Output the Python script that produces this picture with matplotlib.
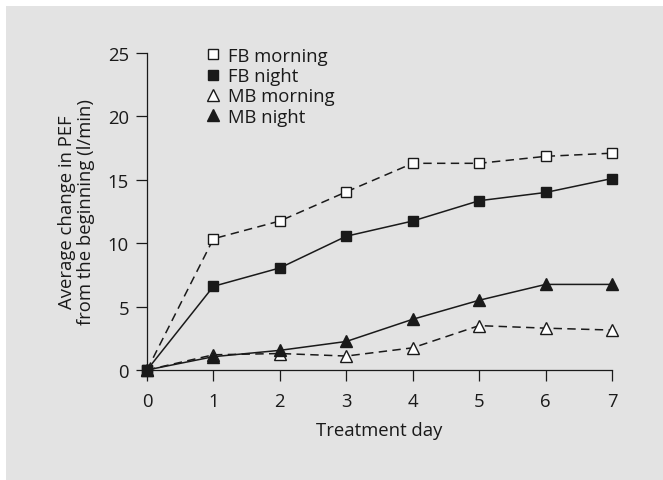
import matplotlib
matplotlib.use("Agg")
import matplotlib.pyplot as plt
from matplotlib.lines import Line2D
from matplotlib.patches import Rectangle

plt.rcParams['font.family'] = ['Open Sans', 'DejaVu Sans']

# data
days = [0, 1, 2, 3, 4, 5, 6, 7]
fb_morning = [0, 10.35, 11.75, 14.05, 16.3, 16.3, 16.85, 17.1]
fb_night = [0, 6.6, 8.05, 10.55, 11.75, 13.35, 14.0, 15.1]
mb_morning = [0, 1.2, 1.3, 1.1, 1.75, 3.5, 3.3, 3.15]
mb_night = [0, 1.05, 1.55, 2.25, 4.0, 5.5, 6.75, 6.75]
labels = ["FB morning", "FB night", "MB morning", "MB night"]

bg = "#e3e3e3"
ink = "#1a1a1a"
fs = 13.3

fig = plt.figure(figsize=(6.63, 4.81), dpi=100, facecolor="white")
# grey panel with a thin white edge on the left and top
fig.patches.append(Rectangle((6 / 663, 0), 1, 1 - 7 / 481, transform=fig.transFigure,
                             facecolor=bg, edgecolor="none", zorder=-10))
ax = fig.add_axes([147 / 663, 110 / 481, 465 / 663, 317 / 481])
ax.set_facecolor(bg)

dash = (0, (5.5, 3.5))
common = dict(color=ink, lw=1.1, clip_on=False, zorder=3)
ax.plot(days, fb_morning, linestyle=dash, marker="s", ms=7, mfc="white", mec=ink, mew=1, **common)
ax.plot(days, fb_night, linestyle="-", marker="s", ms=7, mfc=ink, mec=ink, mew=1, **common)
ax.plot(days, mb_morning, linestyle=dash, marker="^", ms=8.5, mfc="white", mec=ink, mew=1, **common)
ax.plot(days, mb_night, linestyle="-", marker="^", ms=8.5, mfc=ink, mec=ink, mew=1, **common)

ax.set_xlim(0, 7)
ax.set_ylim(0, 25)
ax.set_xticks(days)
ax.set_yticks([0, 5, 10, 15, 20, 25])
for s in ["top", "right"]:
    ax.spines[s].set_visible(False)
for s in ["left", "bottom"]:
    ax.spines[s].set_color(ink)
    ax.spines[s].set_linewidth(0.9)
ax.tick_params(axis="x", direction="out", length=8, width=0.9, color=ink, pad=8, labelsize=fs, labelcolor=ink)
ax.tick_params(axis="y", direction="out", length=8, width=0.9, color=ink, pad=5, labelsize=fs, labelcolor=ink)

ax.set_xlabel("Treatment day", fontsize=fs, color=ink, labelpad=8)
ax.set_ylabel("Average change in PEF\nfrom the beginning (l/min)", fontsize=fs, color=ink,
              labelpad=9, linespacing=1.05)

handles = [
    Line2D([], [], linestyle="none", marker="s", ms=7, mfc="white", mec=ink, mew=1),
    Line2D([], [], linestyle="none", marker="s", ms=7, mfc=ink, mec=ink, mew=1),
    Line2D([], [], linestyle="none", marker="^", ms=8.5, mfc="white", mec=ink, mew=1),
    Line2D([], [], linestyle="none", marker="^", ms=8.5, mfc=ink, mec=ink, mew=1),
]
leg = ax.legend(handles, labels, loc="upper left", bbox_to_anchor=(0.125, 1.02), frameon=False,
                fontsize=fs, handlelength=0.8, handletextpad=0.45, labelspacing=0.13,
                borderaxespad=0, borderpad=0)
for t in leg.get_texts():
    t.set_color(ink)

fig.savefig("out.png", dpi=100, facecolor=fig.get_facecolor())
